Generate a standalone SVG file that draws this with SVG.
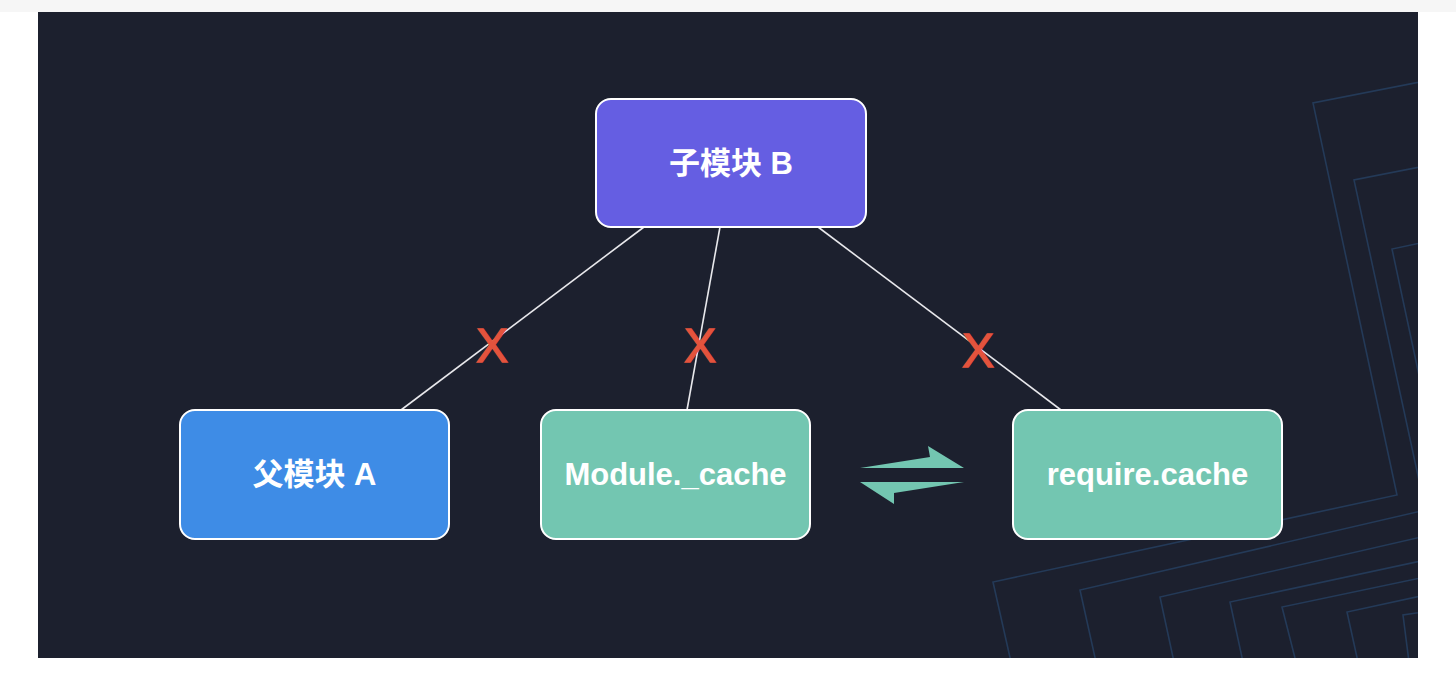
<svg xmlns="http://www.w3.org/2000/svg" width="1456" height="690" viewBox="0 0 1456 690">
<style>
.node rect{stroke:#ffffff;stroke-width:2}
.lbl{font-family:"Liberation Sans","Noto Sans CJK SC",sans-serif;font-weight:700;font-size:31px;fill:#ffffff;text-anchor:middle;dominant-baseline:central}
.x{font-family:"Liberation Sans",Arial,sans-serif;font-size:48px;fill:#e4533d;stroke:#e4533d;stroke-width:1.3;text-anchor:middle;dominant-baseline:central}
.conn line{stroke:#e8e8ec;stroke-width:1.6}
.deco polyline{fill:none;stroke:#243a58;stroke-width:1.6}
</style>
<defs>
<clipPath id="panel"><rect x="38" y="12" width="1380" height="646"/></clipPath>
</defs>
<rect x="0" y="0" width="1456" height="690" fill="#ffffff"/>
<rect x="0" y="0" width="1456" height="12" fill="#f6f6f6"/>
<rect x="38" y="12" width="1380" height="646" fill="#1c202e"/>
<g class="deco" clip-path="url(#panel)">
<polyline points="1430,80 1313,103 1397,495 993,582 1011,662"/>
<polyline points="1430,165 1354,180 1420,485"/>
<polyline points="1430,241 1392,249 1420,380"/>
<polyline points="1430,509 1080,590 1096,662"/>
<polyline points="1430,535 1160,597 1174,662"/>
<polyline points="1430,559 1230,602 1243,662"/>
<polyline points="1430,576 1282,607 1296,662"/>
<polyline points="1430,594 1347,612 1358,662"/>
<polyline points="1430,611 1403,615 1409,662"/>
</g>
<g class="conn">
<line x1="644" y1="227" x2="401" y2="410"/>
<line x1="720" y1="227" x2="687" y2="410"/>
<line x1="818" y1="227" x2="1061" y2="410"/>
<text class="x" x="492" y="345">X</text>
<text class="x" x="700" y="345">X</text>
<text class="x" x="978" y="350">X</text>
<polygon points="860,468 930,457 928,446 964,468" fill="#73c6b1"/>
<polygon points="860,482 964,482 894,493 894,504" fill="#73c6b1"/>
</g>
<g id="nodeB" class="node">
<rect x="596" y="99" width="270" height="128" rx="15" fill="#655ee2"/>
<text class="lbl" x="731" y="163">子模块 B</text>
</g>
<g id="nodeA" class="node">
<rect x="180" y="410" width="269" height="129" rx="15" fill="#3e8ce6"/>
<text class="lbl" x="314.5" y="474.5">父模块 A</text>
</g>
<g id="nodeModuleCache" class="node">
<rect x="541" y="410" width="269" height="129" rx="15" fill="#73c6b1"/>
<text class="lbl" x="675.5" y="474.5">Module._cache</text>
</g>
<g id="nodeRequireCache" class="node">
<rect x="1013" y="410" width="269" height="129" rx="15" fill="#73c6b1"/>
<text class="lbl" x="1147.5" y="474.5">require.cache</text>
</g>
</svg>
